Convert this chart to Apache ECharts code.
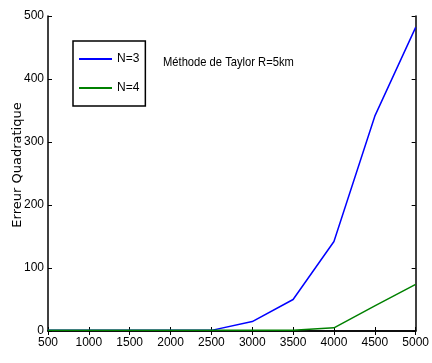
<!DOCTYPE html>
<html><head><meta charset="utf-8">
<script src="https://cdn.jsdelivr.net/npm/echarts@6/dist/echarts.min.js"></script>
<style>html,body{margin:0;padding:0;background:#fff}#c{width:432px;height:363px}</style>
</head><body><div id="c"></div>
<script>
var categories = [500,1000,1500,2000,2500,3000,3500,4000,4500,5000];
var seriesN3 = [1,1,1,1,1,15,50,142,341,482];
var seriesN4 = [1,1,1,1,1,1,1,5,40,74];
var yTicks = [0,100,200,300,400,500];
var FONT = '"Liberation Sans Narrow", "Liberation Sans", Arial, sans-serif';
var chart = echarts.init(document.getElementById('c'));
function pairs(v){return categories.map(function(x,i){return [x,v[i]];});}
var axLine = {show:true, lineStyle:{color:'#000', width:1.5}};
chart.setOption({
  animation:false,
  grid:{left:48, right:11, top:16, bottom:32},
  legend:{orient:'vertical', left:73, top:41,
    borderColor:'#000', borderWidth:1.5, padding:[11,6,11,6], itemGap:15,
    itemWidth:33, itemHeight:2,
    textStyle:{fontFamily:FONT, fontSize:12, color:'#000', lineHeight:14},
    data:[{name:'N=3', icon:'rect'}, {name:'N=4', icon:'rect'}]},
  graphic:[
    {type:'text', x:163, y:62, scaleX:0.86, style:{text:'Méthode de Taylor R=5km', font:'13px '+FONT, fill:'#000', verticalAlign:'middle'}},
    {type:'text', x:18, y:165, rotation:Math.PI/2, style:{text:'Erreur Quadratique', font:'13px "DejaVu Sans", sans-serif', fill:'#000', align:'center', verticalAlign:'middle'}}
  ],
  xAxis:[{type:'value', min:500, max:5000, interval:500, position:'bottom',
    axisLine:axLine, axisTick:{inside:true, length:4, lineStyle:{color:'#000'}},
    axisLabel:{fontFamily:FONT, fontSize:12, color:'#000', margin:6, formatter:function(v){return String(v);}}, splitLine:{show:false}},
   {type:'value', min:500, max:5000, interval:500, position:'top',
    axisLine:axLine, axisTick:{inside:true, length:4, lineStyle:{color:'#000'}},
    axisLabel:{show:false}, splitLine:{show:false}}],
  yAxis:[{type:'value', min:0, max:500, interval:100, position:'left',
    axisLine:axLine, axisTick:{inside:true, length:4, lineStyle:{color:'#000'}},
    axisLabel:{fontFamily:FONT, fontSize:12, color:'#000', margin:4,
      formatter:function(v){return yTicks.indexOf(v)>=0?String(v):'';}}, splitLine:{show:false}},
   {type:'value', min:0, max:500, interval:100, position:'right',
    axisLine:axLine, axisTick:{inside:true, length:4, lineStyle:{color:'#000'}},
    axisLabel:{show:false}, splitLine:{show:false}}],
  series:[
    {name:'N=3', type:'line', data:pairs(seriesN3), symbol:'none', color:'#0000ff', lineStyle:{width:1.5, color:'#0000ff'}},
    {name:'N=4', type:'line', data:pairs(seriesN4), symbol:'none', color:'#008000', lineStyle:{width:1.5, color:'#008000'}}
  ]
});
</script></body></html>
